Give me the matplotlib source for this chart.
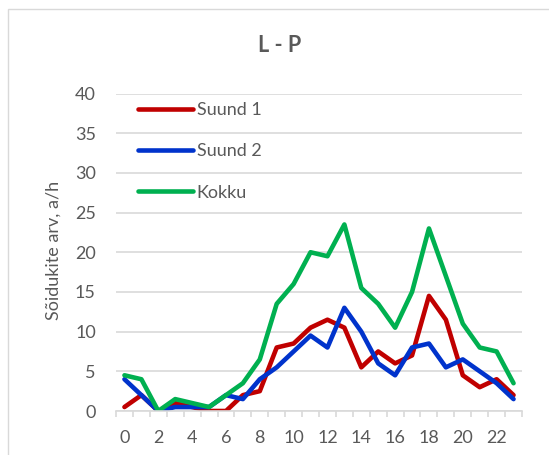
import matplotlib
matplotlib.use("Agg")
import matplotlib.pyplot as plt
from matplotlib.patches import Rectangle
from matplotlib.ticker import FixedLocator

hours = list(range(24))
suund1 = [0.5, 2, 0, 1, 0.5, 0, 0, 2, 2.5, 8, 8.5, 10.5, 11.5, 10.5, 5.5, 7.5, 6, 7, 14.5, 11.5, 4.5, 3, 4, 2]
suund2 = [4, 2, 0, 0.5, 0.5, 0.5, 2, 1.5, 4, 5.5, 7.5, 9.5, 8, 13, 10, 6, 4.5, 8, 8.5, 5.5, 6.5, 5, 3.5, 1.5]
kokku = [4.5, 4, 0, 1.5, 1, 0.5, 2, 3.5, 6.5, 13.5, 16, 20, 19.5, 23.5, 15.5, 13.5, 10.5, 15, 23, 17, 11, 8, 7.5, 3.5]
series_names = ["Suund 1", "Suund 2", "Kokku"]
series_colors = ["#C00000", "#0033CC", "#00B050"]
title = "L - P"
ylabel = "Sõidukite arv, a/h"
yticks = [0, 5, 10, 15, 20, 25, 30, 35, 40]
xtick_labels = [str(h) for h in range(0, 24, 2)]

W, H = 549, 455
plt.rcParams['font.family'] = ['Lato', 'DejaVu Sans']
txt = "#595959"
grid = "#D9D9D9"
fs = 13

fig = plt.figure(figsize=(W / 100, H / 100), dpi=100)
L, R, T, B = 116, 522, 93.5, 411
ax = fig.add_axes([L / W, 1 - B / H, (R - L) / W, (B - T) / H])

for vals, name, col in zip([suund1, suund2, kokku], series_names, series_colors):
    ax.plot(hours, vals, color=col, lw=3.3, label=name,
            solid_capstyle='round', solid_joinstyle='round')

ax.set_xlim(-0.5, 23.5)
ax.set_ylim(0, 40)
ax.set_yticks(yticks)
ax.yaxis.grid(True, color=grid, lw=1.2)
ax.set_axisbelow(True)
for s in ['top', 'right', 'left']:
    ax.spines[s].set_visible(False)
ax.spines['bottom'].set_color(grid)
ax.spines['bottom'].set_linewidth(1.2)

ax.xaxis.set_major_locator(FixedLocator(list(range(0, 24, 2))))
ax.set_xticklabels(xtick_labels)
ax.xaxis.set_minor_locator(FixedLocator([i - 0.5 for i in range(25)]))
ax.tick_params(axis='x', which='major', length=0, pad=13.5, labelsize=fs, labelcolor=txt)
ax.tick_params(axis='x', which='minor', length=4.5, width=1.2, color=grid)
ax.tick_params(axis='y', length=0, pad=14.5, labelsize=fs, labelcolor=txt)

fig.text(54 / W, 1 - 250 / H, ylabel, rotation=90, ha='center', va='center',
         fontsize=fs, color=txt)
fig.text(279.5 / W, 1 - 45.7 / H, title, ha='center', va='center',
         fontsize=15.5, fontweight='bold', color=txt)

leg = ax.legend(loc='upper left', bbox_to_anchor=((138 - L) / (R - L), 1 - (102 - T) / (B - T)),
                frameon=False, fontsize=fs, handlelength=3.05, handletextpad=0.2,
                labelspacing=1.4, borderpad=0, borderaxespad=0)
for t in leg.get_texts():
    t.set_color(txt)
for l in leg.get_lines():
    l.set_solid_capstyle('round')

fig.patches.append(Rectangle((7.5 / W, -0.1), 1.2, 1 - 9 / H + 0.1, transform=fig.transFigure,
                             fill=False, edgecolor=grid, lw=1.0))

fig.savefig("out.png", dpi=100)
